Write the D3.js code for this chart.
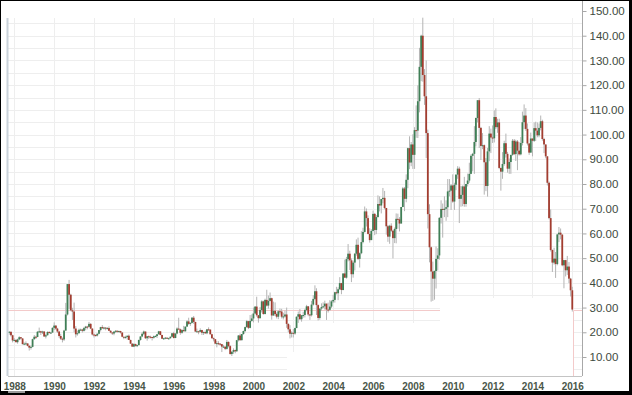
<!DOCTYPE html>
<html>
<head>
<meta charset="utf-8">
<script src="https://cdn.jsdelivr.net/npm/d3@7"></script>
<style>
body { margin: 0; background: #fff; }
svg { display: block; }
</style>
</head>
<body>
<svg id="chart" width="632" height="395"></svg>
<script>
// monthly WTI candles, first one is Oct 1987, last one is Jan 2016 (part month)
var firstMonth = "1987-10"

var opens = [
    20.0, 20.2, 18.8,
    16.7, 16.9, 16.0, 17.1, 18.0, 17.5, 15.2, 15.4, 15.5, 14.5, 13.8, 14.1,
    17.2, 18.2, 18.1, 20.2, 20.4, 19.9, 20.3, 18.3, 18.8, 20.1, 19.9, 19.9,
    21.8, 22.7, 21.5, 20.3, 18.5, 17.4, 17.1, 20.7, 27.2, 39.5, 35.2, 28.9,
    28.4, 21.5, 19.2, 19.6, 21.0, 21.1, 20.6, 21.7, 22.3, 22.2, 23.4, 21.5,
    19.1, 18.9, 18.7, 19.4, 20.9, 22.1, 21.6, 21.9, 21.5, 21.7, 20.6, 19.9,
    19.5, 20.3, 20.6, 20.4, 20.5, 19.9, 18.2, 17.8, 18.1, 18.6, 16.9, 15.4,
    14.2, 15.2, 14.5, 14.8, 16.9, 18.3, 19.4, 20.3, 17.6, 18.4, 18.2, 18.1,
    17.8, 18.4, 18.5, 19.2, 20.4, 18.9, 17.4, 17.6, 17.8, 17.5, 17.6, 18.2,
    19.6, 17.7, 19.5, 21.5, 21.2, 19.8, 20.9, 20.4, 22.3, 24.4, 23.4, 23.8,
    25.9, 24.2, 20.3, 20.4, 20.2, 20.9, 19.8, 20.1, 19.6, 21.2, 21.1, 19.2,
    17.6, 17.2, 15.4, 15.6, 15.4, 15.2, 14.2, 14.2, 13.3, 16.1, 14.4, 11.2,
    12.1, 12.8, 12.3, 16.8, 18.7, 16.8, 19.3, 20.5, 22.1, 24.5, 21.8, 24.6,
    25.6, 27.6, 30.4, 26.9, 25.7, 29.0, 32.5, 27.4, 33.1, 30.8, 32.7, 33.8,
    26.8, 28.7, 27.4, 26.3, 28.5, 28.4, 26.3, 26.4, 27.2, 23.4, 21.2, 19.4,
    19.8, 19.5, 21.7, 26.3, 27.3, 25.3, 26.9, 27.0, 29.0, 30.5, 27.2, 26.9,
    31.2, 33.5, 36.6, 31.0, 25.8, 29.6, 30.2, 30.5, 31.6, 29.2, 29.1, 30.4,
    32.5, 33.1, 36.2, 35.8, 37.4, 39.9, 37.1, 43.8, 42.1, 49.6, 51.8, 49.1,
    43.5, 48.2, 51.8, 55.4, 49.7, 52.0, 56.5, 60.6, 68.9, 66.2, 59.8, 57.3,
    61.0, 67.9, 61.4, 66.6, 71.9, 71.3, 73.9, 74.4, 70.3, 62.9, 58.7, 63.1,
    61.1, 58.1, 61.8, 65.9, 65.7, 64.0, 70.7, 78.2, 74.0, 81.7, 94.5, 88.7,
    96.0, 91.8, 101.8, 101.6, 113.5, 127.4, 140.0, 124.1, 115.5, 100.6, 67.8, 54.4,
    44.6, 41.7, 44.8, 49.7, 51.1, 66.3, 69.9, 69.5, 70.0, 70.6, 77.0, 77.3,
    79.4, 72.9, 79.7, 83.8, 86.2, 74.0, 75.6, 79.0, 71.9, 80.0, 81.4, 84.1,
    91.4, 92.2, 97.0, 106.7, 113.9, 102.7, 95.4, 95.7, 88.8, 79.2, 93.2, 100.4,
    98.8, 98.5, 107.1, 103.0, 104.9, 86.5, 85.0, 88.1, 96.5, 92.2, 86.2, 88.9,
    91.8, 97.5, 92.1, 97.2, 93.5, 92.0, 96.6, 105.0, 107.7, 102.3, 96.4, 92.7,
    98.4, 97.5, 102.6, 101.6, 99.7, 102.7, 105.4, 98.2, 96.0, 91.2, 80.5, 66.2,
    53.3, 48.2, 49.8, 47.6, 59.6, 60.3, 59.5, 47.1, 49.2, 45.1, 46.6, 41.7,
    37.0
]

var highs = [
    20.5, 20.3, 19.0,
    17.6, 17.2, 17.4, 18.4, 18.0, 17.6, 15.9, 16.3, 15.5, 14.9, 14.6, 17.4,
    18.9, 18.6, 20.5, 21.9, 20.6, 20.6, 20.5, 19.4, 20.4, 20.5, 20.2, 22.0,
    24.0, 22.9, 21.8, 20.6, 19.4, 17.9, 21.0, 31.9, 39.5, 41.2, 35.6, 29.9,
    32.0, 22.5, 20.7, 21.5, 21.5, 21.4, 22.2, 22.6, 22.6, 24.2, 23.7, 21.6,
    19.5, 19.2, 19.6, 20.9, 22.2, 22.9, 22.2, 22.0, 22.1, 22.4, 20.9, 20.1,
    20.3, 20.9, 20.8, 20.7, 20.6, 20.0, 18.2, 18.6, 18.7, 19.1, 17.0, 15.6,
    15.6, 15.4, 15.0, 17.0, 18.4, 20.0, 20.7, 20.3, 18.4, 18.7, 18.6, 18.1,
    18.7, 18.8, 19.2, 20.6, 20.5, 19.0, 17.8, 18.1, 17.9, 17.8, 18.3, 19.7,
    20.2, 19.6, 22.0, 25.9, 21.5, 21.2, 22.6, 22.3, 24.9, 25.9, 24.0, 26.2,
    26.6, 24.2, 21.5, 20.6, 21.6, 21.0, 20.3, 20.7, 21.3, 22.0, 21.1, 19.4,
    17.9, 17.2, 16.5, 16.4, 15.6, 15.2, 14.9, 14.2, 16.9, 16.3, 14.8, 12.4,
    13.5, 13.0, 16.9, 18.9, 19.5, 19.3, 20.7, 22.3, 25.0, 24.6, 27.0, 27.2,
    30.0, 30.5, 34.4, 27.0, 30.2, 33.0, 32.8, 33.6, 37.2, 34.9, 36.1, 34.0,
    32.4, 32.1, 28.0, 28.9, 29.6, 29.5, 27.9, 28.8, 30.0, 23.6, 22.9, 20.4,
    21.3, 21.9, 26.4, 28.4, 29.4, 26.9, 28.3, 29.5, 31.1, 30.6, 27.4, 32.7,
    35.0, 39.0, 37.8, 31.3, 29.6, 31.7, 32.1, 32.8, 31.6, 32.0, 33.0, 33.0,
    35.2, 36.4, 38.4, 38.2, 42.3, 40.0, 43.8, 49.4, 50.5, 55.7, 53.0, 49.9,
    49.0, 52.1, 57.6, 58.3, 52.3, 60.9, 62.3, 70.9, 70.1, 67.3, 62.1, 61.7,
    69.2, 68.3, 67.4, 75.4, 75.0, 74.0, 78.4, 77.2, 70.3, 63.4, 63.5, 64.1,
    61.3, 62.4, 68.1, 68.0, 66.6, 70.7, 78.8, 78.8, 83.9, 94.7, 99.3, 97.0,
    100.1, 103.0, 111.8, 119.9, 135.1, 140.4, 147.3, 126.5, 130.0, 102.0, 71.8, 54.7,
    48.6, 45.0, 54.7, 54.0, 66.6, 73.4, 72.1, 75.0, 73.4, 82.0, 82.0, 80.0,
    83.9, 80.5, 83.9, 87.2, 87.0, 79.2, 79.4, 82.9, 80.0, 84.2, 88.6, 92.0,
    92.6, 103.4, 106.9, 113.9, 114.8, 103.1, 100.6, 96.0, 90.5, 94.6, 103.4, 102.4,
    103.7, 109.8, 110.6, 106.4, 106.4, 86.6, 92.9, 97.5, 100.4, 93.0, 90.3, 91.1,
    98.2, 98.2, 97.9, 97.8, 97.0, 99.0, 109.3, 112.2, 110.7, 104.5, 96.5, 100.8,
    98.4, 104.9, 105.2, 104.9, 104.5, 107.7, 106.0, 98.7, 96.0, 91.2, 81.0, 69.7,
    53.5, 54.2, 52.5, 59.9, 62.6, 62.0, 59.7, 49.3, 49.3, 50.9, 48.4, 42.0,
    38.4
]

var lows = [
    19.0, 18.3, 15.9,
    16.3, 15.9, 15.4, 16.8, 17.1, 15.1, 14.8, 15.1, 14.3, 12.6, 13.0, 13.9,
    17.0, 17.3, 18.0, 19.7, 18.9, 19.3, 18.2, 17.5, 18.7, 19.5, 19.3, 19.8,
    20.9, 21.0, 19.7, 17.8, 16.9, 15.9, 16.5, 20.6, 26.8, 29.5, 28.5, 25.0,
    20.0, 17.9, 18.6, 19.6, 20.5, 19.9, 20.3, 20.8, 21.2, 22.0, 21.3, 18.7,
    17.9, 18.2, 18.3, 19.2, 20.3, 21.5, 21.1, 20.8, 21.2, 20.6, 19.6, 18.9,
    18.8, 19.7, 19.8, 19.9, 19.5, 18.0, 17.2, 17.4, 17.0, 16.9, 15.3, 14.1,
    14.0, 14.2, 14.0, 14.7, 16.6, 18.0, 18.9, 17.3, 16.6, 17.3, 17.5, 16.7,
    17.4, 18.0, 17.7, 19.1, 18.8, 17.3, 16.9, 17.2, 17.3, 17.0, 17.4, 18.1,
    17.5, 17.6, 19.2, 21.0, 19.0, 19.4, 20.4, 20.3, 22.2, 23.0, 22.6, 23.6,
    23.4, 20.1, 20.0, 19.2, 20.0, 18.9, 18.9, 19.3, 19.2, 20.6, 19.1, 17.4,
    16.3, 15.2, 13.9, 14.9, 14.6, 12.0, 13.7, 12.8, 13.0, 13.9, 11.0, 10.4,
    11.3, 11.5, 12.2, 16.3, 16.6, 16.7, 19.0, 20.0, 21.8, 21.3, 21.6, 24.3,
    24.0, 27.4, 26.3, 23.9, 25.6, 28.0, 27.1, 27.2, 30.4, 29.6, 32.5, 25.1,
    26.7, 26.6, 25.6, 25.3, 27.2, 25.6, 25.2, 26.0, 21.8, 20.0, 17.5, 17.9,
    17.9, 19.0, 21.7, 23.8, 25.0, 24.3, 25.9, 26.0, 28.5, 26.5, 25.0, 26.4,
    30.8, 33.0, 27.0, 24.8, 25.1, 28.8, 29.8, 29.2, 25.0, 28.0, 28.6, 29.8,
    31.8, 32.0, 35.3, 33.0, 37.2, 35.4, 37.0, 42.0, 41.7, 48.7, 45.2, 40.3,
    42.1, 45.0, 51.0, 49.2, 46.2, 51.6, 56.0, 60.3, 62.8, 59.6, 56.3, 57.3,
    60.9, 59.3, 59.7, 66.5, 68.9, 68.1, 72.2, 69.8, 59.5, 56.6, 55.8, 60.5,
    49.9, 56.1, 56.0, 61.9, 60.8, 64.0, 70.6, 69.0, 72.6, 78.3, 86.0, 87.2,
    86.1, 86.1, 98.7, 98.6, 109.0, 121.6, 121.4, 112.0, 90.5, 62.0, 48.3, 32.4,
    32.7, 33.2, 37.7, 45.0, 49.4, 64.0, 58.3, 66.6, 65.1, 66.6, 75.0, 69.5,
    72.4, 69.5, 77.5, 82.1, 64.2, 70.8, 71.0, 70.8, 70.8, 79.0, 80.5, 84.0,
    85.1, 84.1, 95.2, 104.9, 94.6, 89.7, 94.1, 75.7, 77.1, 74.9, 89.2, 92.5,
    96.6, 96.8, 102.2, 100.7, 86.0, 77.3, 82.1, 87.4, 90.7, 84.6, 84.1, 84.1,
    91.4, 91.7, 89.3, 85.6, 91.5, 91.6, 95.6, 102.2, 101.5, 95.6, 91.8, 92.7,
    91.2, 97.0, 97.4, 98.9, 98.9, 101.7, 97.5, 92.5, 90.4, 79.4, 65.7, 52.7,
    44.4, 47.4, 42.0, 47.1, 56.5, 57.6, 46.7, 37.8, 42.6, 43.2, 39.9, 34.5,
    28.4
]

var closes = [
    20.2, 18.8, 16.7,
    16.9, 16.0, 17.1, 18.0, 17.5, 15.2, 15.4, 15.5, 14.5, 13.8, 14.1, 17.2,
    18.2, 18.1, 20.2, 20.4, 19.9, 20.3, 18.3, 18.8, 20.1, 19.9, 19.9, 21.8,
    22.7, 21.5, 20.3, 18.5, 17.4, 17.1, 20.7, 27.2, 39.5, 35.2, 28.9, 28.4,
    21.5, 19.2, 19.6, 21.0, 21.1, 20.6, 21.7, 22.3, 22.2, 23.4, 21.5, 19.1,
    18.9, 18.7, 19.4, 20.9, 22.1, 21.6, 21.9, 21.5, 21.7, 20.6, 19.9, 19.5,
    20.3, 20.6, 20.4, 20.5, 19.9, 18.2, 17.8, 18.1, 18.6, 16.9, 15.4, 14.2,
    15.2, 14.5, 14.8, 16.9, 18.3, 19.4, 20.3, 17.6, 18.4, 18.2, 18.1, 17.8,
    18.4, 18.5, 19.2, 20.4, 18.9, 17.4, 17.6, 17.8, 17.5, 17.6, 18.2, 19.6,
    17.7, 19.5, 21.5, 21.2, 19.8, 20.9, 20.4, 22.3, 24.4, 23.4, 23.8, 25.9,
    24.2, 20.3, 20.4, 20.2, 20.9, 19.8, 20.1, 19.6, 21.2, 21.1, 19.2, 17.6,
    17.2, 15.4, 15.6, 15.4, 15.2, 14.2, 14.2, 13.3, 16.1, 14.4, 11.2, 12.1,
    12.8, 12.3, 16.8, 18.7, 16.8, 19.3, 20.5, 22.1, 24.5, 21.8, 24.6, 25.6,
    27.6, 30.4, 26.9, 25.7, 29.0, 32.5, 27.4, 33.1, 30.8, 32.7, 33.8, 26.8,
    28.7, 27.4, 26.3, 28.5, 28.4, 26.3, 26.4, 27.2, 23.4, 21.2, 19.4, 19.8,
    19.5, 21.7, 26.3, 27.3, 25.3, 26.9, 27.0, 29.0, 30.5, 27.2, 26.9, 31.2,
    33.5, 36.6, 31.0, 25.8, 29.6, 30.2, 30.5, 31.6, 29.2, 29.1, 30.4, 32.5,
    33.1, 36.2, 35.8, 37.4, 39.9, 37.1, 43.8, 42.1, 49.6, 51.8, 49.1, 43.5,
    48.2, 51.8, 55.4, 49.7, 52.0, 56.5, 60.6, 68.9, 66.2, 59.8, 57.3, 61.0,
    67.9, 61.4, 66.6, 71.9, 71.3, 73.9, 74.4, 70.3, 62.9, 58.7, 63.1, 61.1,
    58.1, 61.8, 65.9, 65.7, 64.0, 70.7, 78.2, 74.0, 81.7, 94.5, 88.7, 96.0,
    91.8, 101.8, 101.6, 113.5, 127.4, 140.0, 124.1, 115.5, 100.6, 67.8, 54.4, 44.6,
    41.7, 44.8, 49.7, 51.1, 66.3, 69.9, 69.5, 70.0, 70.6, 77.0, 77.3, 79.4,
    72.9, 79.7, 83.8, 86.2, 74.0, 75.6, 79.0, 71.9, 80.0, 81.4, 84.1, 91.4,
    92.2, 97.0, 106.7, 113.9, 102.7, 95.4, 95.7, 88.8, 79.2, 93.2, 100.4, 98.8,
    98.5, 107.1, 103.0, 104.9, 86.5, 85.0, 88.1, 96.5, 92.2, 86.2, 88.9, 91.8,
    97.5, 92.1, 97.2, 93.5, 92.0, 96.6, 105.0, 107.7, 102.3, 96.4, 92.7, 98.4,
    97.5, 102.6, 101.6, 99.7, 102.7, 105.4, 98.2, 96.0, 91.2, 80.5, 66.2, 53.3,
    48.2, 49.8, 47.6, 59.6, 60.3, 59.5, 47.1, 49.2, 45.1, 46.6, 41.7, 37.0,
    29.2
]

var priceTicks = [10, 20, 30, 40, 50, 60, 70, 80, 90, 100, 110, 120, 130, 140, 150]
var gridPrices = [5, 15, 25, 35, 45, 55, 65, 75, 85, 95, 105, 115, 125, 135, 145]
var yearTicks = [1988, 1990, 1992, 1994, 1996, 1998, 2000, 2002, 2004, 2006, 2008, 2010, 2012, 2014, 2016]
var lastPrice = 29.2

var area = { left: 8, right: 582, top: 18, bottom: 376 }
var upColor = "#3f7f56"
var downColor = "#a33d30"

var svg = d3.select("#chart")

var parseMonth = d3.timeParse("%Y-%m")
var months = closes.map(function (c, i) { return d3.timeMonth.offset(parseMonth(firstMonth), i) })

var x = d3.scaleTime()
    .domain([new Date(1988, 0, 1), new Date(2016, 0, 1)])
    .range([14.3, 572.3])

var y = d3.scaleLinear()
    .domain([10, 150])
    .range([357, 11])

function yearDate(year) {
    return new Date(year, 0, 1)
}

function drawGrid(container) {
    var grid = container.append("g").attr("class", "grid")
    var allPrices = gridPrices.concat(priceTicks.slice(0, -1))

    grid.selectAll("line.h")
        .data(allPrices)
        .enter().append("line")
        .attr("class", "h")
        .attr("x1", area.left)
        .attr("x2", area.right)
        .attr("y1", function (d) { return Math.round(y(d)) + 0.5 })
        .attr("y2", function (d) { return Math.round(y(d)) + 0.5 })
        .attr("stroke", "#eeeeee")

    grid.selectAll("line.v")
        .data(yearTicks)
        .enter().append("line")
        .attr("class", "v")
        .attr("x1", function (d) { return Math.round(x(yearDate(d))) + 0.5 })
        .attr("x2", function (d) { return Math.round(x(yearDate(d))) + 0.5 })
        .attr("y1", area.top)
        .attr("y2", area.bottom)
        .attr("stroke", "#eeeeee")
}

function drawBlankPatches(container) {
    // parts of the lower plot where the original shows no grid
    var patches = [[330, 323, 244, 53], [440, 298, 134, 78], [287, 352, 43, 24]]
    container.selectAll("rect.patch")
        .data(patches)
        .enter().append("rect")
        .attr("class", "patch")
        .attr("x", function (d) { return d[0] })
        .attr("y", function (d) { return d[1] })
        .attr("width", function (d) { return d[2] })
        .attr("height", function (d) { return d[3] })
        .attr("fill", "#ffffff")
}

function drawLastPrice(container) {
    var ly = Math.round(y(lastPrice)) + 0.5
    var lx = Math.round(x(months[months.length - 1])) + 1.5
    container.append("line")
        .attr("x1", area.left).attr("x2", 440)
        .attr("y1", ly).attr("y2", ly)
        .attr("stroke", "#f3caca")
    container.append("line")
        .attr("x1", lx).attr("x2", area.right)
        .attr("y1", ly).attr("y2", ly)
        .attr("stroke", "#f3caca")
    container.append("line")
        .attr("x1", lx).attr("x2", lx)
        .attr("y1", ly).attr("y2", area.bottom)
        .attr("stroke", "#f3caca")
}

function drawCandles(container) {
    var candles = closes.map(function (c, i) {
        return { date: months[i], open: opens[i], high: highs[i], low: lows[i], close: c }
    })

    var g = container.append("g").attr("class", "candles")

    g.selectAll("line.wick")
        .data(candles)
        .enter().append("line")
        .attr("class", "wick")
        .attr("x1", function (d) { return x(d.date) })
        .attr("x2", function (d) { return x(d.date) })
        .attr("y1", function (d) { return y(d.high) })
        .attr("y2", function (d) { return y(d.low) })
        .attr("stroke", "#b4b4b4")
        .attr("stroke-width", 1)

    g.selectAll("rect.body")
        .data(candles)
        .enter().append("rect")
        .attr("class", "body")
        .attr("x", function (d) { return x(d.date) - 0.9 })
        .attr("width", 1.8)
        .attr("y", function (d) { return y(Math.max(d.open, d.close)) })
        .attr("height", function (d) { return Math.max(1, Math.abs(y(d.open) - y(d.close))) })
        .attr("fill", function (d) { return d.close >= d.open ? upColor : downColor })
}

function drawAxes(container) {
    var right = container.append("g")
        .attr("transform", "translate(" + (area.right + 0.5) + ",0)")
        .call(d3.axisRight(y).tickValues(priceTicks).tickSize(4).tickPadding(3).tickFormat(d3.format(".2f")))

    right.select(".domain").attr("d", "M0,1V" + area.bottom).attr("stroke", "#a8a8a8")
    right.selectAll(".tick line").attr("stroke", "#a8a8a8")
    right.selectAll(".tick text")
        .attr("fill", "#3e4b3e")
        .style("font", "11.5px 'Liberation Sans', Arial, sans-serif")

    var bottom = container.append("g")
        .attr("transform", "translate(0," + (area.bottom + 0.5) + ")")
        .call(d3.axisBottom(x).tickValues(yearTicks.map(yearDate)).tickSize(0).tickPadding(6).tickFormat(d3.timeFormat("%Y")))

    bottom.select(".domain").attr("d", "M" + area.left + ",0H" + area.right).attr("stroke", "#c4c4c4")
    bottom.selectAll(".tick text")
        .attr("fill", "#4a574a")
        .attr("dy", "0.71em")
        .style("font", "bold 10px 'Liberation Sans', Arial, sans-serif")

    container.append("line")
        .attr("x1", 7.5).attr("x2", 7.5)
        .attr("y1", area.top).attr("y2", area.bottom)
        .attr("stroke", "#c9d2da")
        .attr("stroke-width", 2)
}

function drawFrame(container) {
    container.append("rect").attr("x", 0).attr("y", 0).attr("width", 632).attr("height", 1).attr("fill", "#000")
    container.append("rect").attr("x", 0).attr("y", 0).attr("width", 1).attr("height", 395).attr("fill", "#000")
    container.append("rect").attr("x", 629).attr("y", 0).attr("width", 3).attr("height", 395).attr("fill", "#000")
    container.append("rect").attr("x", 0).attr("y", 391).attr("width", 632).attr("height", 4).attr("fill", "#000")
    container.append("rect").attr("x", 8).attr("y", 391).attr("width", 17).attr("height", 2).attr("fill", "#9a9a9a")
}

svg.append("rect").attr("width", 632).attr("height", 395).attr("fill", "#ffffff")
drawGrid(svg)
drawBlankPatches(svg)
drawLastPrice(svg)
drawCandles(svg)
drawAxes(svg)
drawFrame(svg)
</script>
</body>
</html>
